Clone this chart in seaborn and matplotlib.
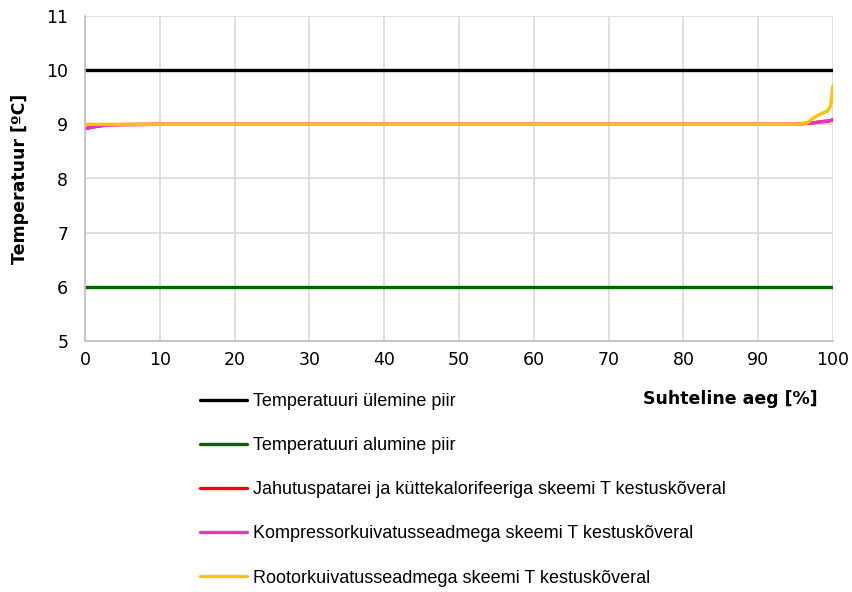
import matplotlib
matplotlib.use("Agg")
import matplotlib.pyplot as plt
import seaborn as sns
import pandas as pd

# -------------------------------
# Data
# -------------------------------
x_limits = [0, 100]
upper_limit = [10, 10]
lower_limit = [6, 6]

x_curve = [0, 1, 2, 3, 5, 10, 20, 30, 40, 50, 60, 70, 80, 90, 95, 96.5, 97.5, 98.5, 99.3, 99.7, 100]
t_cooler = [8.92, 8.95, 8.97, 8.99, 8.995, 9.0, 9.0, 9.0, 9.0, 9.0, 9.0, 9.0, 9.0, 9.0, 9.0, 9.02, 9.03, 9.05, 9.06, 9.07, 9.08]
t_compressor = [8.92, 8.95, 8.97, 8.99, 8.995, 9.0, 9.0, 9.0, 9.0, 9.0, 9.0, 9.0, 9.0, 9.0, 9.0, 9.02, 9.03, 9.05, 9.06, 9.07, 9.09]
t_rotor = [9.0, 9.0, 9.0, 9.0, 9.0, 9.0, 9.0, 9.0, 9.0, 9.0, 9.0, 9.0, 9.0, 9.0, 9.0, 9.02, 9.13, 9.2, 9.25, 9.35, 9.72]

labels = [
    "Temperatuuri ülemine piir",
    "Temperatuuri alumine piir",
    "Jahutuspatarei ja küttekalorifeeriga skeemi T kestuskõveral",
    "Kompressorkuivatusseadmega skeemi T kestuskõveral",
    "Rootorkuivatusseadmega skeemi T kestuskõveral",
]
colors = ["#000000", "#006600", "#ff0000", "#e633cc", "#ffc000"]

# -------------------------------
# Plot
# -------------------------------
sns.set_style("white")
plt.rcParams["font.family"] = ["DejaVu Sans"]
plt.rcParams["text.color"] = "black"
plt.rcParams["xtick.color"] = "black"
plt.rcParams["ytick.color"] = "black"
plt.rcParams["axes.labelcolor"] = "black"

fig = plt.figure(figsize=(8.53, 5.92), dpi=100)
ax = fig.add_axes([85 / 853, 1 - 341 / 592, 748 / 853, 325 / 592])

series = [
    (x_limits, upper_limit),
    (x_limits, lower_limit),
    (x_curve, t_cooler),
    (x_curve, t_compressor),
    (x_curve, t_rotor),
]
for (xs, ys), lab, col in zip(series, labels, colors):
    df = pd.DataFrame({"x": xs, "y": ys})
    sns.lineplot(data=df, x="x", y="y", ax=ax, color=col, linewidth=2.4, label=lab)

ax.set_xlim(0, 100)
ax.set_ylim(5, 11)
ax.set_xticks(range(0, 101, 10))
ax.set_yticks(range(5, 12))
ax.grid(True, color="#d9d9d9", linewidth=1.2)
ax.set_axisbelow(True)
for s in ["top", "right"]:
    ax.spines[s].set_visible(False)
for s in ["left", "bottom"]:
    ax.spines[s].set_color("#bfbfbf")
    ax.spines[s].set_linewidth(1.2)
ax.tick_params(axis="both", length=0, labelsize=12.5)
ax.tick_params(axis="y", pad=12)
ax.tick_params(axis="x", pad=7)

ax.set_xlabel("Suhteline aeg [%]", fontsize=12.5, fontweight="bold", ha="right")
ax.xaxis.set_label_coords(0.98, -0.15)
ax.set_ylabel("Temperatuur [ºC]", fontsize=12.5, fontweight="bold")
ax.yaxis.set_label_coords(-0.075, 0.5)

handles, labs = ax.get_legend_handles_labels()
ax.get_legend().remove()
fig.legend(handles, labs, loc="upper left", bbox_to_anchor=(193 / 853, 1 - 386 / 592),
           frameon=False, prop={"family": ["Liberation Sans", "DejaVu Sans"], "size": 13},
           handlelength=2.6, handletextpad=0.3, labelspacing=1.5, borderaxespad=0)

fig.savefig("out.png", dpi=100)
